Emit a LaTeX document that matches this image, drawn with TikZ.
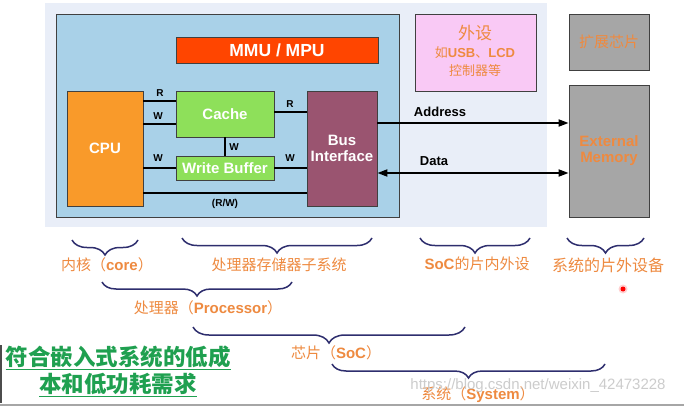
\documentclass[tikz,border=0pt]{standalone}
\usepackage{fontspec}
\setmainfont{Liberation Sans}
\newfontfamily\cjk{Noto Sans CJK SC}
\usetikzlibrary{decorations.pathreplacing,arrows.meta}
\newcommand\fsz[1]{\fontsize{#1}{#1}\selectfont}
\newcommand\cj[1]{{\cjk\mdseries #1}}
\definecolor{panelc}{HTML}{E9EEF8}
\definecolor{bluec}{HTML}{A9D1E8}
\definecolor{mmuc}{HTML}{FF4500}
\definecolor{cpuc}{HTML}{F99A2A}
\definecolor{greenc}{HTML}{8EE05A}
\definecolor{busc}{HTML}{9A5470}
\definecolor{pinkc}{HTML}{F9C9F5}
\definecolor{grayc}{HTML}{A6A6A6}
\definecolor{orangec}{HTML}{EE8A40}
\definecolor{bracec}{HTML}{2E2E6E}
\definecolor{greent}{HTML}{1FA050}
\definecolor{edgec}{HTML}{404040}
\tikzset{
  blk/.style={draw=edgec, line width=0.8pt, inner sep=0pt, align=center},
  wtxt/.style={text=white, font=\bfseries\fsz{15}},
  lbl/.style={font=\bfseries\fsz{10}, inner sep=0pt},
  wire/.style={line width=1.4pt, black},
  bus/.style={line width=1.8pt, black, -{Triangle[length=10pt,width=7pt]}},
  brc/.style={draw=bracec, line width=1.5pt, decorate, decoration={brace, amplitude=#1}},
  olbl/.style={text=orangec, font=\bfseries\fsz{15}, inner sep=0pt},
}
\begin{document}
\begin{tikzpicture}[x=1pt,y=-1pt]
\useasboundingbox (0,0) rectangle (684,406);
\fill[white] (0,0) rectangle (684,406);
% panels
\fill[panelc] (45,3) rectangle (547,227);
\draw[fill=bluec, draw=edgec, line width=0.8pt] (56,14) rectangle (399,217);
% blocks
\node[blk, fill=mmuc, minimum width=202pt, minimum height=26pt, text=white, font=\bfseries\fsz{17.5}] (mmu) at (277,50) {MMU / MPU};
\node[blk, fill=cpuc, minimum width=76pt, minimum height=115pt, wtxt] (cpu) at (105,148.5) {CPU};
\node[blk, fill=greenc, minimum width=98pt, minimum height=46pt, wtxt] (cache) at (225,114) {Cache};
\node[blk, fill=greenc, minimum width=98pt, minimum height=24pt, wtxt] (wb) at (225,168) {Write Buffer};
\node[blk, fill=busc, minimum width=70pt, minimum height=115pt, wtxt] (bus) at (342,148.5) {Bus\\[1pt]Interface};
\node[blk, fill=pinkc, minimum width=121pt, minimum height=77pt] (peri) at (475.5,52.5) {};
\node[blk, fill=grayc, minimum width=80pt, minimum height=56pt, text=orangec, font=\cjk\fsz{15}] (chip) at (609,42) {扩展芯片};
\node[blk, fill=grayc, minimum width=80pt, minimum height=132pt, text=orangec, font=\bfseries\fsz{15}] (mem) at (609,151) {External\\[1pt]Memory};
% peripheral text
\node[text=orangec, font=\cjk\fsz{17}, inner sep=0pt] (p1) at (475,33) {外设};
\node[text=orangec, inner sep=0pt] (p2) at (475,53) {{\cjk\fsz{13}如}{\bfseries\fsz{13}USB}{\cjk\fsz{13}、}{\bfseries\fsz{13}LCD}};
\node[text=orangec, font=\cjk\fsz{13}, inner sep=0pt] (p3) at (475,71) {控制器等};
% internal wires
\draw[wire] (cpu.east |- 0,101) -- (cache.west |- 0,101);
\draw[wire] (cpu.east |- 0,124) -- (cache.west |- 0,124);
\draw[wire] (cache.east |- 0,112) -- (bus.west |- 0,112);
\draw[wire] (cache.south) -- (wb.north);
\draw[wire] (cpu.east |- wb.west) -- (wb.west);
\draw[wire] (wb.east) -- (bus.west |- wb.east);
\draw[wire] (cpu.east |- 0,193) -- (bus.west |- 0,193);
\node[lbl] (l1) at (160,93) {R};
\node[lbl] (l2) at (158,116.5) {W};
\node[lbl] (l3) at (234,147) {W};
\node[lbl] (l4) at (158,158.5) {W};
\node[lbl] (l5) at (290,158.5) {W};
\node[lbl] (l6) at (290,104) {R};
\node[lbl] (l7) at (225,204) {(R/W)};
% external buses
\draw[bus] (bus.east |- 0,123) -- (mem.west |- 0,123);
\draw[bus, {Triangle[length=10pt,width=7pt]}-{Triangle[length=10pt,width=7pt]}] (bus.east |- 0,173) -- (mem.west |- 0,173);
\node[font=\bfseries\fsz{13}, inner sep=0pt] (addr) at (440,112) {Address};
\node[font=\bfseries\fsz{13}, inner sep=0pt] (data) at (434,161) {Data};
% braces
\draw[brc=15pt] (138,240) -- (72,240);
\draw[brc=15pt] (372,238) -- (182,238);
\draw[brc=15pt] (530,238) -- (420,238);
\draw[brc=15pt] (644,238) -- (567,238);
\draw[brc=14pt] (292,282) -- (102,282);
\draw[brc=16pt] (465,327) -- (193,327);
\draw[brc=14pt] (605,364) -- (332,364);
\node[olbl] (b1) at (107,265) {\cj{内核（}core\cj{）}};
\node[olbl] (b2) at (279,265) {\cj{处理器存储器子系统}};
\node[olbl] (b3) at (477,264) {SoC\cj{的片内外设}};
\node[olbl] (b4) at (608,265) {\cj{\fsz{16}系统的片外设备}};
\node[olbl] (b5) at (208,308) {\cj{处理器（}Processor\cj{）}};
\node[olbl] (b6) at (336,353) {\cj{芯片（}SoC\cj{）}};
\node[olbl] (b7) at (478,395) {\cj{系统（}System\cj{）}};
% green note
\node[text=greent, font=\cjk\bfseries\fsz{22.5}, inner sep=0pt] (g1) at (118,358) {\underline{符合嵌入式系统的低成}};
\node[text=greent, font=\cjk\bfseries\fsz{22.5}, inner sep=0pt] (g2) at (118,385) {\underline{本和低功耗需求}};
% watermark, dot, edges
\node[text=black!22, opacity=0.9, font=\fsz{15}, inner sep=0pt] (wm) at (538,386) {https://blog.csdn.net/weixin\_42473228};
\fill[red!30, opacity=0.6] (623,289) circle (4.5);
\fill[red] (623,289) circle (2.5);
\draw[black!70, line width=1.5pt] (0.75,345) -- (0.75,403);
\draw[gray!70, line width=2pt] (0,405) -- (684,405);
\end{tikzpicture}
\end{document}
